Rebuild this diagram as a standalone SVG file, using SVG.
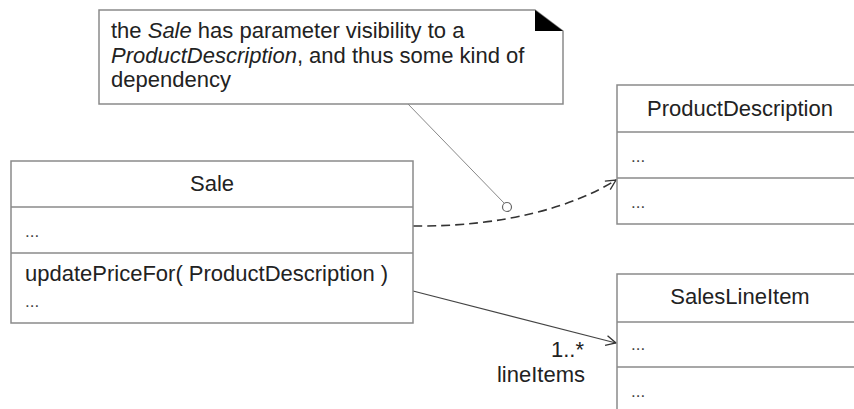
<svg xmlns="http://www.w3.org/2000/svg" width="854" height="409" viewBox="0 0 854 409">
<defs>
<style>
.box{fill:#fff;stroke:#8a8a8a;stroke-width:1.5}
.div{stroke:#8a8a8a;stroke-width:1.5}
text{font-family:"Liberation Sans",Arial,sans-serif;font-size:22px;fill:#222}
.mid{text-anchor:middle}
.it{font-style:italic}
.dots{font-size:17px;fill:#444}
.dep{fill:none;stroke:#333;stroke-width:1.6;stroke-dasharray:9 5}
.assoc{fill:none;stroke:#444;stroke-width:1.2}
.anch{fill:none;stroke:#888;stroke-width:1}
</style>
<marker id="open" viewBox="0 0 12 12" refX="11" refY="6" markerWidth="12" markerHeight="12" markerUnits="userSpaceOnUse" orient="auto">
<path d="M1,1 L11,6 L1,11" fill="none" stroke="#333" stroke-width="1.3"/>
</marker>
</defs>
<rect width="854" height="409" fill="#fff"/>
<g id="connectors">
<path class="dep" d="M413,226 C505,227 575,206 616,180" marker-end="url(#open)"/>
<line class="assoc" x1="413" y1="291" x2="616" y2="343" marker-end="url(#open)"/>
<line class="anch" x1="408" y1="104" x2="504" y2="203"/>
<circle cx="507" cy="207" r="4.5" fill="#fff" stroke="#666" stroke-width="1.2"/>
<text x="584" y="357" text-anchor="end">1..*</text>
<text x="541" y="382" class="mid">lineItems</text>
</g>
<g id="note">
<path class="box" d="M99,10 L535,10 L563,31 L563,104 L99,104 Z"/>
<path d="M535,10 L535,31 L563,31 Z" fill="#000"/>
<text x="111" y="38">the <tspan class="it">Sale</tspan> has parameter visibility to a</text>
<text x="111" y="63"><tspan class="it">ProductDescription</tspan>, and thus some kind of</text>
<text x="111" y="87">dependency</text>
</g>
<g id="sale">
<rect class="box" x="11" y="161" width="402" height="162"/>
<line class="div" x1="11" y1="207" x2="413" y2="207"/>
<line class="div" x1="11" y1="253" x2="413" y2="253"/>
<text x="212" y="191" class="mid">Sale</text>
<text x="25" y="237" class="dots">...</text>
<text x="25" y="281">updatePriceFor( ProductDescription )</text>
<text x="25" y="307" class="dots">...</text>
</g>
<g id="productDescription">
<rect class="box" x="617" y="85" width="250" height="139"/>
<line class="div" x1="617" y1="132" x2="860" y2="132"/>
<line class="div" x1="617" y1="178" x2="860" y2="178"/>
<text x="740" y="116" class="mid">ProductDescription</text>
<text x="631" y="162" class="dots">...</text>
<text x="631" y="208" class="dots">...</text>
</g>
<g id="salesLineItem">
<rect class="box" x="617" y="274" width="250" height="150"/>
<line class="div" x1="617" y1="322" x2="860" y2="322"/>
<line class="div" x1="617" y1="367" x2="860" y2="367"/>
<text x="740" y="304" class="mid">SalesLineItem</text>
<text x="631" y="350" class="dots">...</text>
<text x="631" y="397" class="dots">...</text>
</g>
</svg>
